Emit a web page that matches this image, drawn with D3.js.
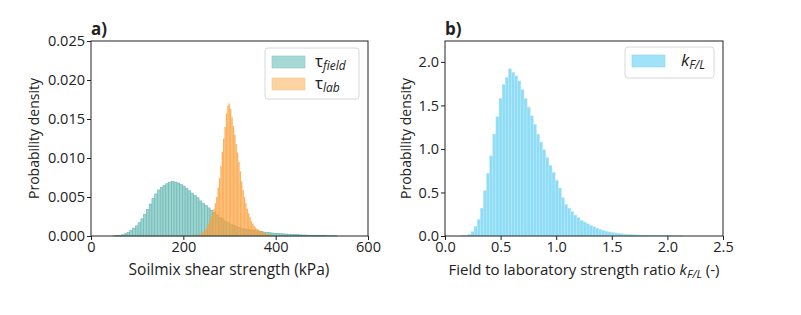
<!DOCTYPE html>
<html><head><meta charset="utf-8">
<script src="https://cdn.jsdelivr.net/npm/d3@7"></script>
<style>body{margin:0;background:#fff}svg{display:block}text{font-family:"Open Sans",sans-serif;fill:#222}</style>
</head><body>
<script>
// ---- data ----
const fieldBinStart = 48, fieldBinWidth = 6;
const fieldDensity = [0.00002,0.00004,0.00008,0.00015,0.00028,0.00045,0.0007,0.001,0.0013,0.0017,0.0022,0.0028,0.0034,0.0041,0.0048,0.0054,0.0059,0.0062,0.0065,0.0067,0.0069,0.0070,0.0069,0.0068,0.0066,0.0064,0.0061,0.0058,0.0055,0.0052,0.0049,0.0045,0.0042,0.0039,0.0036,0.0033,0.0030,0.0027,0.0024,0.0022,0.0019,0.0017,0.0015,0.0014,0.0012,0.0011,0.0010,0.0009,0.00085,0.0008,0.00075,0.0007,0.00063,0.00057,0.0005,0.00046,0.00042,0.00038,0.00035,0.00032,0.0003,0.00027,0.00025,0.00023,0.0002,0.00018,0.00017,0.00015,0.00013,0.00012,0.0001,0.00009,0.00008,0.00007,0.00006,0.00005,0.00004,0.00003,0.00003,0.00002,0.00002];
const labBinStart = 220, labBinWidth = 3;
const labDensity = [0.00003,0.00005,0.00008,0.00011,0.00015,0.0002,0.0003,0.00045,0.0006,0.0008,0.0011,0.0015,0.0020,0.0025,0.0030,0.0035,0.0042,0.0050,0.0062,0.0074,0.0090,0.0108,0.0125,0.0140,0.0157,0.0167,0.0170,0.0163,0.0152,0.0141,0.0130,0.0118,0.0107,0.0095,0.0083,0.0070,0.0059,0.0050,0.0042,0.0035,0.0029,0.0024,0.0019,0.0016,0.0013,0.0011,0.0009,0.0008,0.0007,0.0006,0.0005,0.0004,0.0003,0.00025,0.0002,0.00017,0.00012,0.00008];
const ratioBinStart = 0.15, ratioBinWidth = 0.028;
const ratioDensity = [0.003,0.008,0.02,0.05,0.11,0.19,0.32,0.52,0.72,0.92,1.17,1.37,1.58,1.74,1.82,1.92,1.88,1.84,1.78,1.68,1.58,1.48,1.38,1.28,1.17,1.08,0.99,0.90,0.81,0.73,0.64,0.55,0.44,0.36,0.32,0.28,0.24,0.21,0.18,0.16,0.14,0.12,0.105,0.09,0.076,0.065,0.055,0.047,0.04,0.034,0.029,0.025,0.021,0.018,0.016,0.014,0.012,0.010,0.009,0.008,0.007,0.006,0.005,0.0045,0.004,0.0035,0.003,0.0025,0.002,0.0018,0.0015];
const aXTicks = [0,200,400,600];
const aYTicks = [0,0.005,0.010,0.015,0.020,0.025];
const bXTicks = [0,0.5,1.0,1.5,2.0,2.5];
const bYTicks = [0,0.5,1.0,1.5,2.0];

const W = 801, H = 315;
const svg = d3.select("body").append("svg").attr("width", W).attr("height", H);

function panel(opt){
  const g = svg.append("g");
  const x = d3.scaleLinear().domain(opt.xdom).range([opt.left, opt.right]);
  const y = d3.scaleLinear().domain(opt.ydom).range([opt.bottom, opt.top]);
  const plot = g.append("g");
  opt.series.forEach(s=>{
    plot.selectAll(null).data(s.values).enter().append("rect")
      .attr("x",(d,i)=>x(s.start+i*s.width))
      .attr("width",(d,i)=>x(s.start+(i+1)*s.width)-x(s.start+i*s.width))
      .attr("y",d=>y(d)).attr("height",d=>y(0)-y(d))
      .attr("fill",s.fill).attr("fill-opacity",s.opacity)
      .attr("stroke",s.stroke).attr("stroke-width",s.strokeWidth);
  });
  const ax = g.append("g").attr("transform",`translate(0,${opt.bottom})`)
    .call(d3.axisBottom(x).tickValues(opt.xticks).tickFormat(opt.fmtX).tickSize(4).tickPadding(2));
  const ay = g.append("g").attr("transform",`translate(${opt.left},0)`)
    .call(d3.axisLeft(y).tickValues(opt.yticks).tickFormat(opt.fmtY).tickSize(4).tickPadding(2));
  [ax,ay].forEach(a=>{
    a.select(".domain").remove();
    a.selectAll("text").style("font-size","14.5px").attr("fill","#222").style("font-family","'Open Sans',sans-serif");
    a.selectAll("line").attr("stroke","#222");
  });
  g.append("rect").attr("x",opt.left).attr("y",opt.top)
    .attr("width",opt.right-opt.left).attr("height",opt.bottom-opt.top)
    .attr("fill","none").attr("stroke","#222").attr("stroke-width",1);
  g.append("text").attr("x",opt.left).attr("y",opt.top-6).text(opt.tag)
    .style("font-size","17px").style("font-weight","bold").attr("fill","#111");
  g.append("text").attr("transform",`translate(${opt.left-opt.ylabOff},${(opt.top+opt.bottom)/2}) rotate(-90)`)
    .attr("text-anchor","middle").style("font-size","14px").text("Probability density");
  const xl = g.append("text").attr("x",opt.xlabX).attr("y",opt.bottom+39)
    .attr("text-anchor","middle").style("font-size",opt.xlabSize);
  opt.xlabel(xl);
  // legend
  const lg = g.append("g");
  lg.append("rect").attr("x",opt.leg.x).attr("y",opt.leg.y).attr("width",opt.leg.w).attr("height",opt.leg.h)
    .attr("rx",3).attr("fill","#fff").attr("fill-opacity",0.8).attr("stroke","#d8d8d8");
  opt.leg.items.forEach((it,i)=>{
    const yy = opt.leg.y + 8 + i*22;
    lg.append("rect").attr("x",opt.leg.x+7).attr("y",yy).attr("width",33).attr("height",12)
      .attr("fill",it.fill).attr("stroke",it.stroke).attr("stroke-width",0.6);
    const t = lg.append("text").attr("x",opt.leg.x+it.tx).attr("y",yy+11).style("font-size","17px");
    it.label(t);
  });
}

panel({
  left:91,right:368,top:41,bottom:236,ylabOff:52,xlabX:229,xlabSize:"15.5px",
  xdom:[0,600],ydom:[0,0.025],xticks:aXTicks,yticks:aYTicks,
  fmtX:d3.format("d"),fmtY:d3.format(".3f"),tag:"a)",
  series:[
    {start:fieldBinStart,width:fieldBinWidth,values:fieldDensity,fill:"#9ad3cf",opacity:1,stroke:"#6db6b2",strokeWidth:0.6},
    {start:labBinStart,width:labBinWidth,values:labDensity,fill:"#fba03c",opacity:0.82,stroke:"none",strokeWidth:0}
  ],
  xlabel:t=>t.text("Soilmix shear strength (kPa)"),
  leg:{x:265,y:48,w:94,h:51,items:[
    {fill:"#a6d8d5",stroke:"#8cc8c4",tx:50,label:t=>{t.append("tspan").text("τ");t.append("tspan").attr("dy",3).style("font-size","12px").style("font-style","italic").text("field");}},
    {fill:"#fdd3a2",stroke:"#f9c68c",tx:50,label:t=>{t.append("tspan").text("τ");t.append("tspan").attr("dy",3).style("font-size","12px").style("font-style","italic").text("lab");}}
  ]}
});

panel({
  left:445,right:723,top:41,bottom:236,ylabOff:34,xlabX:584,xlabSize:"15px",
  xdom:[0,2.5],ydom:[0,2.24],xticks:bXTicks,yticks:bYTicks,
  fmtX:d3.format(".1f"),fmtY:d3.format(".1f"),tag:"b)",
  series:[
    {start:ratioBinStart,width:ratioBinWidth,values:ratioDensity,fill:"#8edcf5",opacity:1,stroke:"#b8e9f8",strokeWidth:0.5}
  ],
  xlabel:t=>{t.append("tspan").text("Field to laboratory strength ratio ");
    t.append("tspan").style("font-style","italic").text("k");
    t.append("tspan").attr("dy",3).style("font-size","11.5px").style("font-style","italic").text("F/L");
    t.append("tspan").attr("dy",-3).text(" (-)");},
  leg:{x:625,y:47,w:89,h:31,items:[
    {fill:"#a0e2f7",stroke:"#86d8f2",tx:56,label:t=>{t.append("tspan").style("font-style","italic").text("k");t.append("tspan").attr("dy",3).style("font-size","12px").style("font-style","italic").text("F/L");}}
  ]}
});
</script>
</body></html>
